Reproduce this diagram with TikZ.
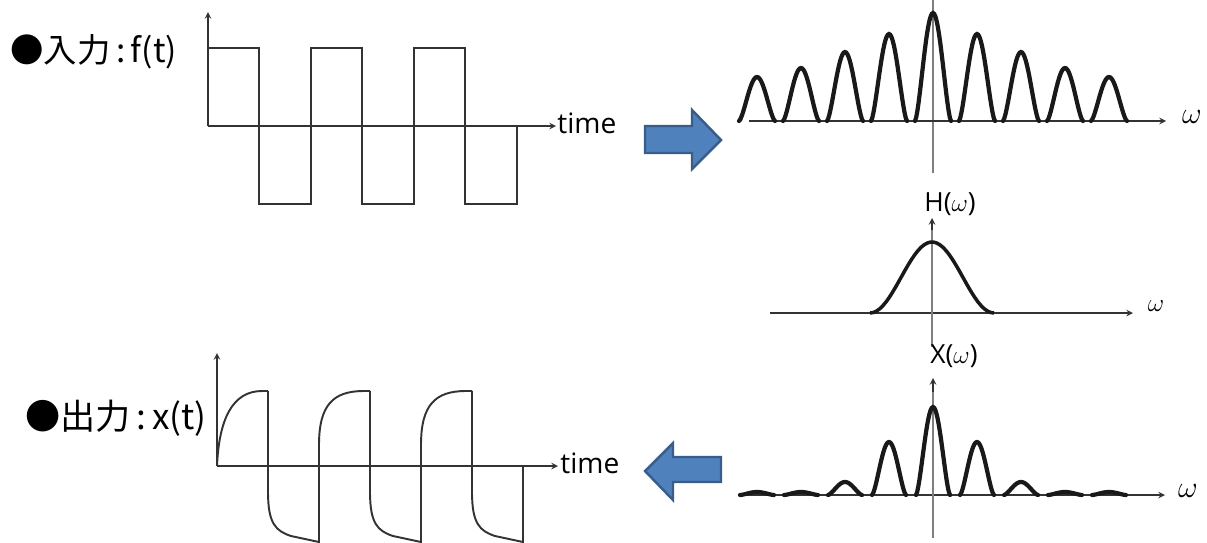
\documentclass[tikz,border=0pt]{standalone}
\usepackage{fontspec}
\setmainfont{Open Sans}
\newfontfamily\jpfont{Noto Sans CJK JP}
\definecolor{arrowblue}{HTML}{4F81BD}
\definecolor{arrowedge}{HTML}{385D8A}
\definecolor{axisgray}{HTML}{7F7F7F}

\begin{document}
\begin{tikzpicture}[
		x=0.02cm, y=-0.02cm,
		>=stealth,
		every node/.style={inner sep=0pt},
		axis/.style={draw=black!80, line width=0.7pt},
		vaxis/.style={draw=axisgray, line width=1pt},
		wave/.style={draw=black!80, line width=1.3pt},
		lobe/.style={draw=black!90, line width=2.4pt, line cap=round},
		blockarrow/.style={fill=arrowblue, draw=arrowedge, line width=1.4pt}
	]
  \useasboundingbox (0,0) rectangle (1207,542);

  % input f(t)
  \node (in_label) [anchor=west, font=\jpfont\fontsize{19}{19}\selectfont] at (10,52) {●入力\,:\,f(t)};
  \draw[axis,->] (208,126) -- (208,12);
  \draw[axis,->] (208,126) -- (556,126);
  \node (time_in) [anchor=west, font=\fontsize{16}{16}\selectfont] at (557,123) {time};
  \draw[wave] (208,126) -- (208,48) -- (259,48) -- (259,204) -- (311,204) -- (311,48)
    -- (362,48) -- (362,204) -- (414,204) -- (414,48) -- (465,48) -- (465,204)
    -- (517,204) -- (517,126);

  % spectrum of f(t)
  \draw[blockarrow] (645,126) -- (692,126) -- (692,110) -- (721,140) -- (692,169) -- (692,153) -- (645,153) -- cycle;
  \draw[vaxis] (933,0) -- (933,173);
  \draw[axis,->] (749,121) -- (1166,121);
  \node (omega_a) [font=\fontsize{18}{18}\selectfont] at (1192,117) {$\omega$};
  \foreach \k/\h in {-4/44,-3/53,-2/69,-1/87,0/108,1/87,2/69,3/53,4/44}
    \draw[lobe] plot[domain=-18:18, samples=31] ({933+44*\k+\x}, {121-\h*cos(5*\x)*sqrt(abs(cos(5*\x)))});

  % filter H(w)
  \draw[axis,->] (770,313) -- (1133,313);
  \draw[vaxis] (932,347) -- (932,222);
  \draw[axis,->] (932,230) -- (932,218);
  \node (H_label) [font=\fontsize{15}{15}\selectfont] at (950,204) {H($\omega$)};
  \node (omega_b) [font=\fontsize{14}{14}\selectfont] at (1156,306) {$\omega$};
  \draw[draw=black!90, line width=2pt] plot[domain=-62:62, samples=40] ({932+\x}, {313-35.5*(1+cos(180*\x/62))});

  % output spectrum X(w)
  \draw[axis,->] (740,495) -- (1165,495);
  \draw[vaxis] (933,538) -- (933,384);
  \draw[axis,->] (933,392) -- (933,378);
  \node (X_label) [font=\fontsize{15}{15}\selectfont] at (954,356) {X($\omega$)};
  \node (omega_c) [font=\fontsize{18}{18}\selectfont] at (1188,491) {$\omega$};
  \foreach \k/\h in {-4/3,-3/3,-2/13,-1/53,0/88,1/53,2/13,3/3,4/3}
    \draw[lobe] plot[domain=-17:17, samples=31] ({933+44*\k+\x}, {495-\h*cos(90*\x/17)*sqrt(abs(cos(90*\x/17)))});

  % output x(t)
  \draw[blockarrow] (721,457) -- (673,457) -- (673,443) -- (645,471) -- (673,500) -- (673,482) -- (721,482) -- cycle;
  \node (out_label) [anchor=west, font=\jpfont\fontsize{20}{20}\selectfont] at (25,418) {●出力\,:\,x(t)};
  \draw[axis,->] (217,466) -- (217,353);
  \draw[axis,->] (217,466) -- (558,466);
  \node (time_out) [anchor=west, font=\fontsize{16}{16}\selectfont] at (560,463) {time};
  \draw[wave, line width=1.1pt] (217,466) .. controls (219,420) and (232,391) .. (262,391) -- (268,391);
  \foreach \p in {0,102,204}
    \draw[wave, line width=1.1pt] ({268+\p},391) -- ({268+\p},492) .. controls ({268+\p},524) and ({276+\p},531) .. ({291+\p},536) -- ({319+\p},542) -- ({319+\p},466);
  \foreach \p in {0,102}
    \draw[wave, line width=1.1pt] ({319+\p},466) -- ({319+\p},445) .. controls ({319+\p},405) and ({333+\p},391) .. ({364+\p},391) -- ({370+\p},391);
\end{tikzpicture}
\end{document}
